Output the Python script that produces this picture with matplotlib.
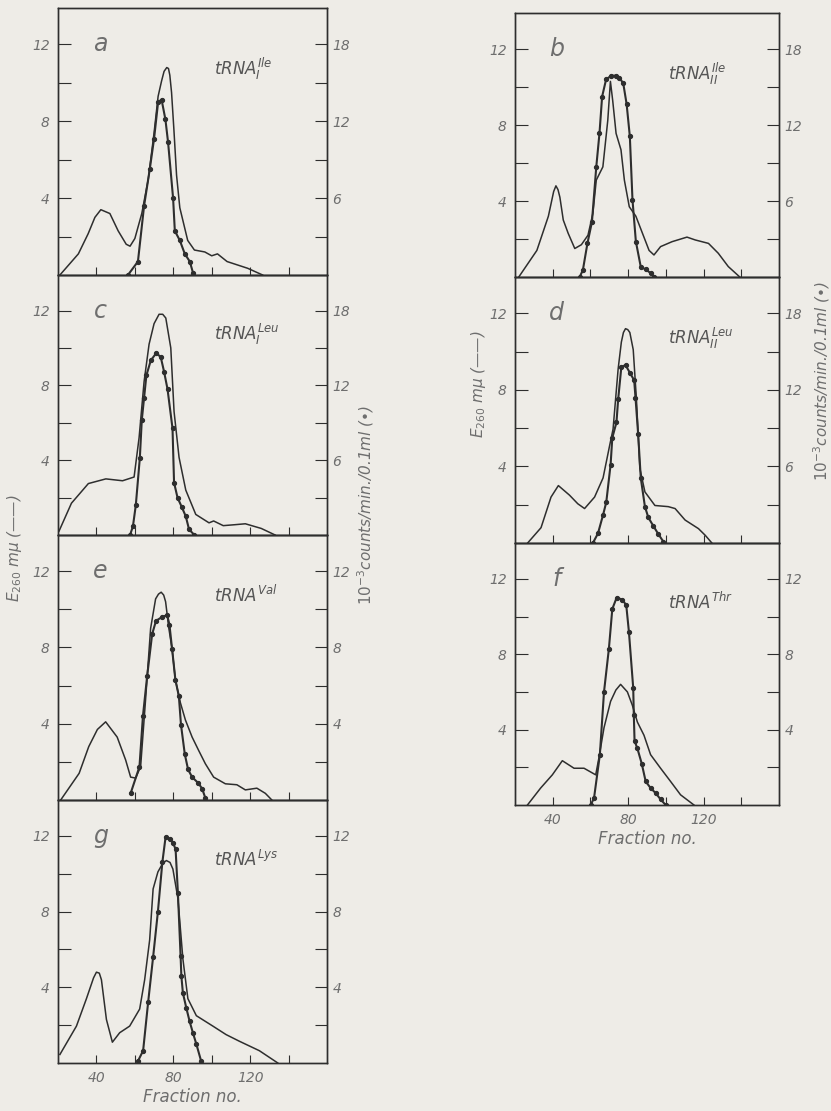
import numpy as np
import matplotlib
matplotlib.use("Agg")
import matplotlib.pyplot as plt

# E260 (solid line) and counts (dots), per panel
# counts are in the units of each panel's right axis (10^-3 counts/min/0.1 ml)

a_frac = [21, 30.6, 35.7, 39.2, 42.3, 47, 51.3, 55.5, 57.5, 60, 63.6, 67, 70, 72.1, 73.9, 75.2, 76.6,
          77.5, 78.2, 79.1, 80.3, 81.7, 83.4, 87.5, 91, 96.4, 100, 103, 108, 118.7, 126.5]
a_E = [0, 1.1, 2.15, 3.0, 3.4, 3.2, 2.3, 1.6, 1.5, 1.9, 3.2, 5.0, 7.4, 9.3, 10.1, 10.6, 10.8,
       10.75, 10.4, 9.5, 7.6, 5.2, 3.5, 1.8, 1.3, 1.2, 1.0, 1.1, 0.7, 0.35, 0]
a_dfrac = [56.4, 61.6, 64.8, 67.8, 70, 72.1, 73.9, 75.9, 77.3, 79.9, 80.8, 83.4, 86, 88.6, 90.3]
a_cpm = [0, 1.05, 5.4, 8.3, 10.65, 13.5, 13.7, 12.15, 10.35, 6.0, 3.45, 2.7, 1.65, 1.05, 0.15]

c_frac = [20.5, 27, 35.8, 44.9, 53.6, 59.6, 62.2, 64.8, 67.4, 70, 72.6, 74.5, 76.1, 78.7, 80.4, 83, 86.5,
          91.7, 98.6, 101, 106, 112, 117.5, 125.8, 133]
c_E = [0.2, 1.7, 2.75, 3.0, 2.9, 3.1, 5.2, 8.2, 10.2, 11.3, 11.8, 11.8, 11.6, 10.0, 6.6, 4.15, 2.4,
       1.1, 0.65, 0.75, 0.5, 0.55, 0.6, 0.35, 0]
c_dfrac = [57.5, 59, 60.5, 62.6, 63.6, 64.8, 66, 68.3, 71.2, 73.5, 75.2, 77, 79.6, 80.4, 82.2,
           84.4, 86.5, 88.2, 91]
c_cpm = [0, 0.7, 2.4, 6.2, 9.2, 11.0, 12.8, 14.0, 14.6, 14.25, 13.1, 11.7, 8.55, 4.2, 3.0,
         2.25, 1.5, 0.45, 0]

e_frac = [21.4, 31, 36, 40.5, 44.8, 50.8, 55.2, 57.8, 60.4, 63, 65.6, 68.2, 70.8, 72.3, 73.7, 75, 76,
          77.7, 79.4, 81.1, 83.7, 86.3, 89.8, 93.2, 96.7, 101, 107.1, 113.1, 117.5, 123.5, 127.9, 131.3]
e_E = [0, 1.4, 2.8, 3.7, 4.1, 3.3, 2.1, 1.2, 1.15, 1.75, 5.3, 9.0, 10.55, 10.8, 10.9, 10.75, 10.4,
       9.0, 7.9, 6.3, 5.1, 4.2, 3.3, 2.6, 1.9, 1.2, 0.85, 0.8, 0.53, 0.62, 0.35, 0]
e_dfrac = [57.8, 62.4, 64.2, 66.4, 69, 71, 74.2, 76.8, 78, 79.4, 81.1, 82.9, 84, 86, 87.7,
           89.8, 92.9, 95, 96.7]
e_cpm = [0.35, 1.75, 4.4, 6.5, 8.7, 9.4, 9.6, 9.7, 9.2, 7.9, 6.3, 5.45, 3.95, 2.4, 1.6,
         1.2, 0.9, 0.6, 0.1]

g_frac = [21, 29.6, 34.8, 38.5, 40, 41.5, 42.6, 45.2, 48.3, 52.1, 57.3, 62.5, 65.1, 67.7, 69.5, 72,
          74.5, 76.4, 78.3, 79.8, 82.4, 85, 87.6, 92, 100.6, 107.5, 114.4, 124.8, 134.4]
g_E = [0.45, 1.95, 3.4, 4.5, 4.8, 4.75, 4.4, 2.3, 1.1, 1.6, 1.95, 2.85, 4.4, 6.5, 9.2, 10.1,
       10.55, 10.7, 10.6, 10.25, 8.7, 5.5, 3.4, 2.5, 1.95, 1.5, 1.15, 0.65, 0]
g_dfrac = [61.6, 64.3, 66.9, 69.5, 72, 74.3, 76, 78.1, 79.8, 81.2, 82.4, 83.8, 84.2, 85, 86.8,
           88.5, 90.2, 92, 94.5]
g_cpm = [0.1, 0.65, 3.2, 5.6, 8.0, 10.6, 11.95, 11.85, 11.65, 11.3, 9.0, 5.65, 4.6, 3.7, 2.9,
         2.2, 1.6, 1.0, 0.1]

b_frac = [22, 31.6, 37.7, 40.5, 41.7, 42.8, 43.8, 45.6, 48.2, 51.7, 55.2, 58.7, 61.3, 63.1, 66.6,
          69.2, 70.6, 71.8, 73.6, 76.2, 78, 80.6, 84.1, 87.6, 91.1, 93.7, 97.2, 103.3, 111.2,
          115.6, 122.6, 127.8, 133.1, 139.2]
b_E = [0, 1.4, 3.2, 4.5, 4.8, 4.6, 4.2, 3.0, 2.3, 1.5, 1.7, 2.2, 3.35, 5.1, 5.8,
       8.25, 10.3, 9.3, 7.56, 6.7, 5.1, 3.7, 3.2, 2.3, 1.4, 1.16, 1.6, 1.86, 2.1,
       1.95, 1.77, 1.25, 0.55, 0]
b_dfrac = [54.3, 56, 58.4, 60.8, 63.1, 64.8, 66.2, 68.3, 71, 73.6, 75.3, 77.4, 79.2, 80.9, 82.3,
           84.1, 86.7, 89.3, 92, 93.7]
b_cpm = [0, 0.55, 2.65, 4.35, 8.7, 11.35, 14.25, 15.6, 15.9, 15.9, 15.75, 15.3, 13.65, 11.1, 6.1,
         2.8, 0.8, 0.6, 0.3, 0]

d_frac = [26.7, 33.8, 39.1, 43, 48.9, 53.3, 56.9, 62.2, 66.7, 70.2, 72, 74.7, 76.4, 77.5, 78.6,
          79.8, 80.9, 82.7, 84.4, 86.2, 88.9, 94.2, 101.3, 104.9, 110.2, 117.3, 120.9, 124.4]
d_E = [0, 0.8, 2.4, 3.0, 2.5, 2.05, 1.8, 2.4, 3.4, 5.1, 5.95, 9.1, 10.5, 11.0, 11.2,
       11.15, 11.0, 10.1, 7.5, 3.9, 2.67, 1.96, 1.9, 1.8, 1.2, 0.75, 0.4, 0]
d_dfrac = [61.3, 64, 66.7, 68.4, 70.7, 71.6, 73.8, 74.7, 76.4, 78.6, 80.9, 83.2, 83.9, 85.3, 86.7,
           88.9, 90.7, 93.3, 96, 98.7]
d_cpm = [0, 0.75, 2.2, 3.2, 6.15, 8.25, 9.45, 11.25, 13.8, 13.95, 13.35, 12.75, 11.4, 8.55, 5.1,
         2.85, 2.0, 1.35, 0.7, 0.1]

f_frac = [26.6, 33.6, 39.8, 45.1, 51.3, 56.6, 62.8, 64.5, 67.2, 70.7, 73.5, 76, 79.6, 82.2, 84.9,
          88.4, 91.9, 97.2, 102.5, 107.8, 114.9]
f_E = [0, 0.9, 1.6, 2.35, 1.95, 1.95, 1.6, 2.5, 4.1, 5.5, 6.1, 6.4, 6.0, 5.3, 4.4,
       3.7, 2.67, 1.95, 1.25, 0.54, 0]
f_dfrac = [60.1, 61.9, 65, 67.2, 69.8, 71.6, 73.9, 76.9, 79, 80.4, 82.7, 83, 83.4, 84.9, 87.2,
           89.3, 91.9, 94.6, 97.2, 99.9]
f_cpm = [0, 0.36, 2.67, 6.0, 8.3, 10.4, 11.0, 10.9, 10.6, 9.2, 6.2, 4.8, 3.4, 3.0, 2.2,
         1.25, 0.9, 0.63, 0.3, 0]

letters = ['a', 'c', 'e', 'g', 'b', 'd', 'f']
names = [r'$tRNA_{I}^{Ile}$', r'$tRNA_{I}^{Leu}$', r'$tRNA^{Val}$', r'$tRNA^{Lys}$',
         r'$tRNA_{II}^{Ile}$', r'$tRNA_{II}^{Leu}$', r'$tRNA^{Thr}$']
right_top = [21, 21, 14, 14, 21, 21, 14]       # right axis top (left axis top is 14)
right_ticks = [[6, 12, 18], [6, 12, 18], [4, 8, 12], [4, 8, 12],
               [6, 12, 18], [6, 12, 18], [4, 8, 12]]

solid = [(a_frac, a_E), (c_frac, c_E), (e_frac, e_E), (g_frac, g_E),
         (b_frac, b_E), (d_frac, d_E), (f_frac, f_E)]
dots = [(a_dfrac, a_cpm), (c_dfrac, c_cpm), (e_dfrac, e_cpm), (g_dfrac, g_cpm),
        (b_dfrac, b_cpm), (d_dfrac, d_cpm), (f_dfrac, f_cpm)]

# panel boxes in pixels: x0, x1, top, bottom
W, H = 831, 1111
boxes = [(58, 327, 8, 275), (58, 327, 275, 535), (58, 327, 535, 800), (58, 327, 800, 1063),
         (515, 779, 13, 277), (515, 779, 277, 543), (515, 779, 543, 805)]
bottom_panel = [False, False, False, True, False, False, True]

bg = '#eeece7'
ink = '#2e2e2e'
grey = '#6e6e6e'
plt.rcParams['font.family'] = ['DejaVu Sans']
plt.rcParams['mathtext.fontset'] = 'dejavusans'

fig = plt.figure(figsize=(W / 100, H / 100), dpi=100, facecolor=bg)

for i in range(7):
    x0, x1, y0, y1 = boxes[i]
    ax = fig.add_axes([x0 / W, 1 - y1 / H, (x1 - x0) / W, (y1 - y0) / H])
    ax.set_facecolor('none')
    ax2 = ax.twinx()

    ax.plot(solid[i][0], solid[i][1], color=ink, lw=1.1, solid_joinstyle='round')
    ax2.plot(dots[i][0], dots[i][1], color=ink, lw=1.5, marker='o', ms=2.8, mfc=ink, mec=ink)

    ax.set_xlim(20, 160)
    ax.set_ylim(0, 13.9)
    ax2.set_ylim(0, right_top[i] * 13.9 / 14)

    ax.set_xticks([40, 80, 120])
    ax.set_xticks([60, 100, 140], minor=True)
    ax.set_yticks([4, 8, 12])
    ax.set_yticks([2, 6, 10], minor=True)
    rt = right_ticks[i]
    ax2.set_yticks(rt)
    ax2.set_yticks([rt[0] / 2, rt[0] * 1.5, rt[0] * 2.5], minor=True)

    for a in (ax, ax2):
        for s in a.spines.values():
            s.set_color(ink)
            s.set_linewidth(1.0)
    ax.tick_params(axis='x', which='both', direction='in', length=6, width=0.8, color=ink,
                   labelsize=10, labelcolor=grey, pad=6, labelbottom=bottom_panel[i])
    ax.tick_params(axis='y', which='both', direction='in', length=9, width=0.8, color=ink,
                   labelsize=10, labelcolor=grey, pad=6)
    ax2.tick_params(axis='y', which='both', direction='in', length=9, width=0.8, color=ink,
                    labelsize=10, labelcolor=grey, pad=4)
    for lab in ax.get_xticklabels() + ax.get_yticklabels() + ax2.get_yticklabels():
        lab.set_fontstyle('italic')

    ax.text(42, 12, letters[i], fontsize=17, style='italic', color=grey, ha='center', va='center')
    ax.text(101, 10.4, names[i], fontsize=12, color='#555555', ha='left', va='baseline')

    if bottom_panel[i]:
        ax.set_xlabel('Fraction no.', fontsize=12, style='italic', color=grey, labelpad=2)

# axis titles
fig.text(15 / W, 1 - 548 / H, r'$E_{260}$ mμ (——)', rotation=90, ha='center', va='center',
         fontsize=11, style='italic', color=grey)
fig.text(366 / W, 1 - 505 / H, r'$10^{-3}$counts/min./0.1ml (•)', rotation=90, ha='center',
         va='center', fontsize=11, style='italic', color=grey)
fig.text(478 / W, 1 - 384 / H, r'$E_{260}$ mμ (——)', rotation=90, ha='center', va='center',
         fontsize=11, style='italic', color=grey)
fig.text(822 / W, 1 - 381 / H, r'$10^{-3}$counts/min./0.1ml (•)', rotation=90, ha='center',
         va='center', fontsize=11, style='italic', color=grey)

fig.savefig('out.png', dpi=100, facecolor=bg)
